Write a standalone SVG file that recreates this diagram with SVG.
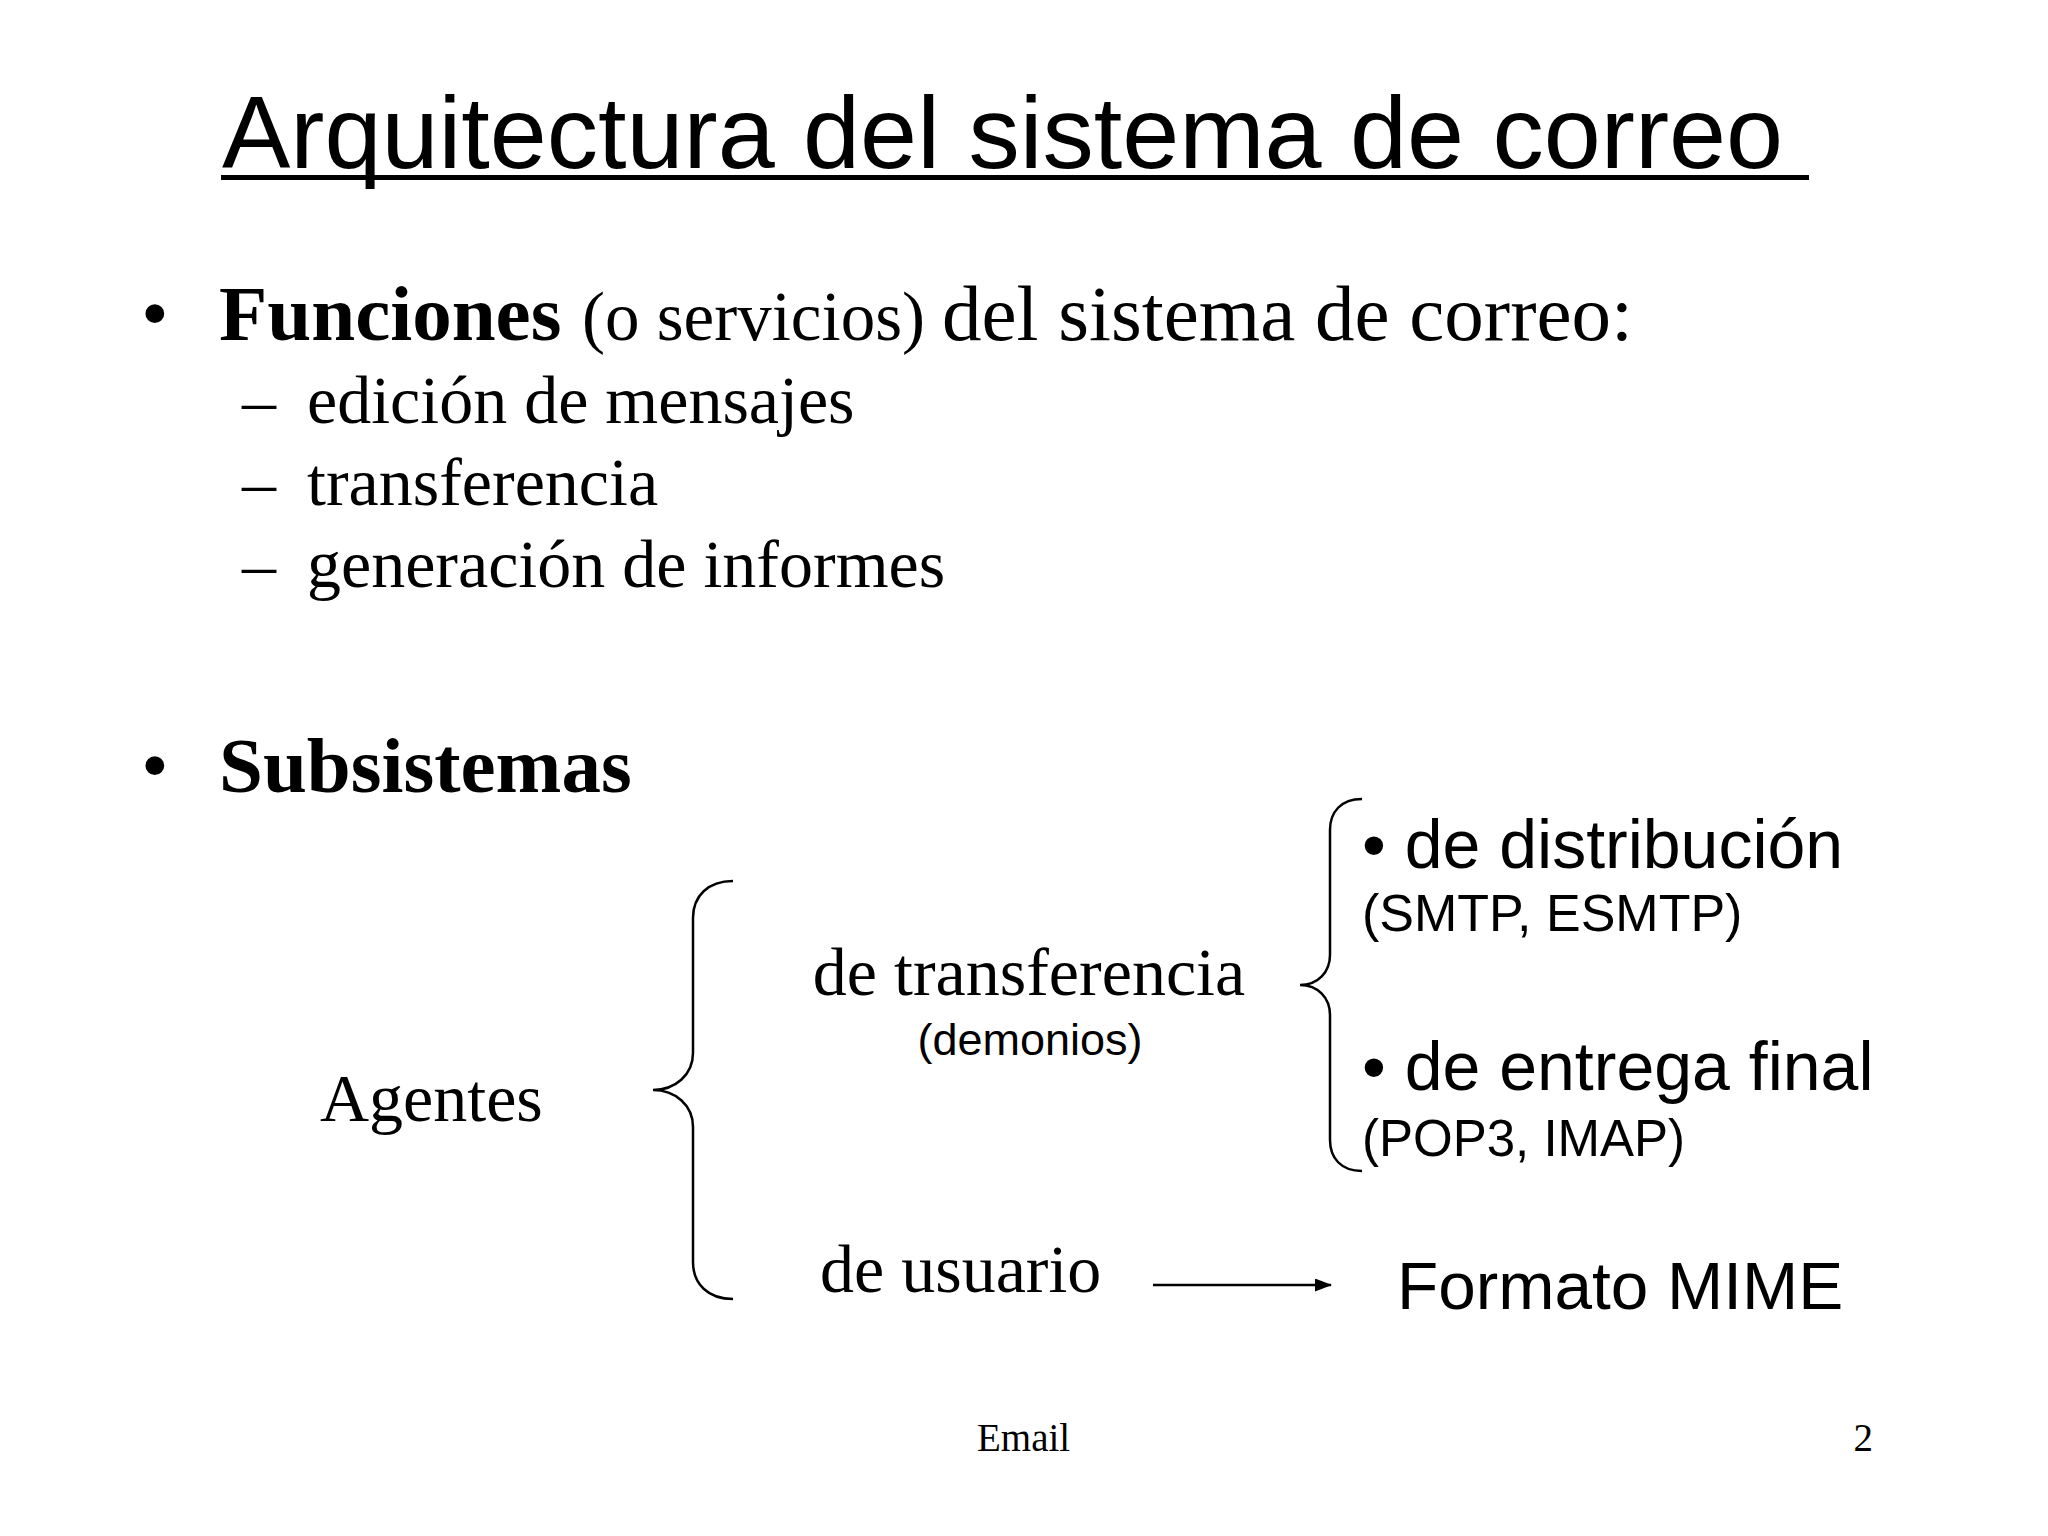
<svg xmlns="http://www.w3.org/2000/svg" width="2048" height="1536" viewBox="0 0 2048 1536">
<style>
.serif{font-family:"Liberation Serif","Times New Roman",serif;fill:#000}
.sans{font-family:"Liberation Sans",Arial,sans-serif;fill:#000}
.brace{fill:none;stroke:#000;stroke-width:2.5}
.conn{fill:none;stroke:#000;stroke-width:2.5}
</style>
<defs>
<marker id="arrow" markerWidth="17" markerHeight="13" refX="16" refY="6.5" orient="auto" markerUnits="userSpaceOnUse">
<path d="M0,0 L17,6.5 L0,13 Z" fill="#000"/>
</marker>
</defs>
<rect width="2048" height="1536" fill="#fff"/>

<g id="title">
<text class="sans" x="222" y="168" font-size="102.5">Arquitectura del sistema de correo</text>
<rect x="221" y="175" width="1588" height="5" fill="#000"/>
</g>

<g id="funciones">
<text class="serif" x="141" y="340" font-size="79">•</text>
<text class="serif" y="340" font-size="79"><tspan x="219" font-weight="bold">Funciones</tspan><tspan x="582" font-size="69">(o servicios)</tspan><tspan x="942">del sistema de correo:</tspan></text>
<text class="serif" x="242" y="423" font-size="68">–</text>
<text class="serif" x="307" y="423" font-size="68">edición de mensajes</text>
<text class="serif" x="242" y="505" font-size="68">–</text>
<text class="serif" x="307" y="505" font-size="68">transferencia</text>
<text class="serif" x="242" y="587" font-size="68">–</text>
<text class="serif" x="307" y="587" font-size="68">generación de informes</text>
</g>

<g id="subsistemas">
<text class="serif" x="141" y="792" font-size="79">•</text>
<text class="serif" x="219" y="792" font-size="79" font-weight="bold">Subsistemas</text>
</g>

<g id="agentes">
<text class="serif" x="320" y="1121" font-size="68">Agentes</text>
</g>

<g id="transferencia">
<text class="serif" x="1029" y="995" font-size="68" text-anchor="middle">de transferencia</text>
<text class="sans" x="1030" y="1055" font-size="45" text-anchor="middle">(demonios)</text>
</g>

<g id="usuario">
<text class="serif" x="820" y="1292" font-size="68">de usuario</text>
</g>

<g id="distribucion">
<text class="sans" x="1362" y="868" font-size="68">• de distribución</text>
<text class="sans" x="1362" y="931" font-size="52">(SMTP, ESMTP)</text>
</g>

<g id="entrega">
<text class="sans" x="1362" y="1090" font-size="68">• de entrega final</text>
<text class="sans" x="1362" y="1156" font-size="51">(POP3, IMAP)</text>
</g>

<g id="mime">
<text class="sans" x="1397" y="1309" font-size="67.5">Formato MIME</text>
</g>

<g id="connectors">
<path class="brace" d="M733,881 C708,881 693,896 693,918 L693,1053 C693,1075 675,1090 653,1090 C675,1090 693,1105 693,1127 L693,1262 C693,1284 708,1299 733,1299"/>
<path class="brace" d="M1362,799 C1341,799 1330,812 1330,830 L1330,955 C1330,972 1318,985 1300,985 C1318,985 1330,998 1330,1015 L1330,1140 C1330,1158 1341,1171 1362,1171"/>
<line class="conn" x1="1153" y1="1285" x2="1331" y2="1285" marker-end="url(#arrow)"/>
</g>

<g id="footer">
<text class="serif" x="977" y="1451" font-size="39">Email</text>
<text class="serif" x="1873" y="1451" font-size="39" text-anchor="end">2</text>
</g>
</svg>
